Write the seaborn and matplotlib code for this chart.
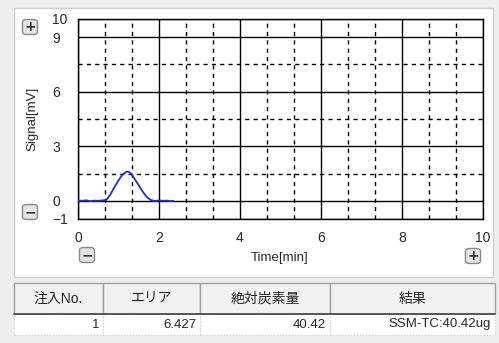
import numpy as np
import pandas as pd
import matplotlib.pyplot as plt
import seaborn as sns
from matplotlib.patches import Rectangle, FancyBboxPatch
from matplotlib.ticker import FixedLocator

# signal trace
time_min = [0.0, 0.1, 0.2, 0.3, 0.4, 0.5, 0.6, 0.7, 0.8, 0.9, 1.0, 1.1, 1.2, 1.25,
            1.3, 1.4, 1.5, 1.6, 1.7, 1.8, 1.9, 2.0, 2.1, 2.2, 2.3, 2.35]
signal_mv = [0.02, 0.0, 0.03, -0.02, 0.01, 0.0, 0.02, 0.05, 0.35, 0.75, 1.12, 1.45, 1.6, 1.6,
             1.52, 1.2, 0.85, 0.5, 0.2, 0.04, -0.01, 0.02, 0.0, 0.01, -0.02, 0.0]

x_ticks = [0, 2, 4, 6, 8, 10]
y_ticks = [-1, 0, 3, 6, 9, 10]
y_minor = [1.5, 4.5, 7.5]

# result table
col_names = ["注入No.", "エリア", "絶対炭素量", "結果"]
row_values = ["1", "6.427", "40.42", "SSM-TC:40.42ug"]
col_edges = [14, 103, 200, 330, 495]

sns.set_style("white")
plt.rcParams['font.family'] = ['Liberation Sans', 'Noto Sans CJK JP', 'DejaVu Sans']

W, H = 499, 343
fig = plt.figure(figsize=(W / 100, H / 100), dpi=100)
fig.patch.set_facecolor("#eeeeee")


def fx(x):
    return x / W


def fy(y):
    return 1 - y / H


# white panel behind the plot
fig.patches.append(Rectangle((fx(14), fy(277)), fx(493) - fx(14), fy(8) - fy(277),
                             transform=fig.transFigure, facecolor="white",
                             edgecolor="#d0d0d0", lw=1, zorder=-5))

ax = fig.add_axes([fx(78), fy(219), fx(483) - fx(78), fy(19) - fy(219)])
ax.set_zorder(3)
df = pd.DataFrame({"t": time_min, "s": signal_mv})
sns.lineplot(data=df, x="t", y="s", ax=ax, color="#1f2fd0", lw=1.3, zorder=5)

ax.set_xlim(0, 10)
ax.set_ylim(-1, 10)
ax.set_xticks(x_ticks)
ax.set_yticks(y_ticks)
ax.xaxis.set_minor_locator(FixedLocator([v for v in np.arange(2 / 3, 10, 2 / 3)
                                         if abs(v / 2 - round(v / 2)) > 0.01]))
ax.yaxis.set_minor_locator(FixedLocator(y_minor))
ax.grid(which="major", color="black", lw=1.0, ls="-")
ax.grid(which="minor", color="black", lw=1.0, ls=(0, (3, 3)))
ax.tick_params(which="both", length=0)
ax.tick_params(axis="x", labelsize=10, pad=9)
ax.tick_params(axis="y", labelsize=10, pad=18.5)
for lbl in ax.get_yticklabels():
    lbl.set_horizontalalignment("left")
for sp in ax.spines.values():
    sp.set_color("black")
    sp.set_linewidth(1.0)
ax.set_xlabel("")
ax.set_ylabel("")

fig.text(fx(280), fy(258), "Time[min]", ha="center", va="center", fontsize=9.5)
fig.text(fx(32), fy(119), "Signal[mV]", ha="center", va="center", fontsize=9.5,
         rotation=90)


def button(cx, cy, glyph):
    s = 15
    fig.patches.append(FancyBboxPatch((fx(cx - s / 2), fy(cy + s / 2)), fx(s), s / H,
                                      boxstyle="round,pad=0,rounding_size=0.008",
                                      transform=fig.transFigure, facecolor="#e4e4e4",
                                      edgecolor="#8a8a8a", lw=1))
    fig.text(fx(cx), fy(cy), glyph, ha="center", va="center", fontsize=10,
             fontweight="bold", color="#333333", family="DejaVu Sans")


button(30, 27, "+")
button(30, 212, "−")
button(87, 255, "−")
button(473, 256, "+")

# table
head_top, head_bot, row_bot = 283, 314, 335
for i, name in enumerate(col_names):
    x0, x1 = col_edges[i], col_edges[i + 1]
    fig.patches.append(Rectangle((fx(x0), fy(head_bot)), fx(x1 - x0), fy(head_top) - fy(head_bot),
                                 transform=fig.transFigure, facecolor="#f2f2f2",
                                 edgecolor="#a0a0a0", lw=1))
    fig.text(fx((x0 + x1) / 2), fy((head_top + head_bot) / 2), name, ha="center",
             va="center", fontsize=10)
    fig.patches.append(Rectangle((fx(x0), fy(row_bot)), fx(x1 - x0), fy(head_bot) - fy(row_bot),
                                 transform=fig.transFigure, facecolor="white",
                                 edgecolor="#c8c8c8", lw=0.8, ls=":"))
    fig.text(fx(x1 - 4), fy((head_bot + row_bot) / 2), row_values[i], ha="right",
             va="center", fontsize=9.5)
fig.add_artist(plt.Line2D([fx(14), fx(495)], [fy(head_bot), fy(head_bot)],
                          transform=fig.transFigure, color="#404040", lw=1.2))

fig.savefig("out.png", dpi=100)
